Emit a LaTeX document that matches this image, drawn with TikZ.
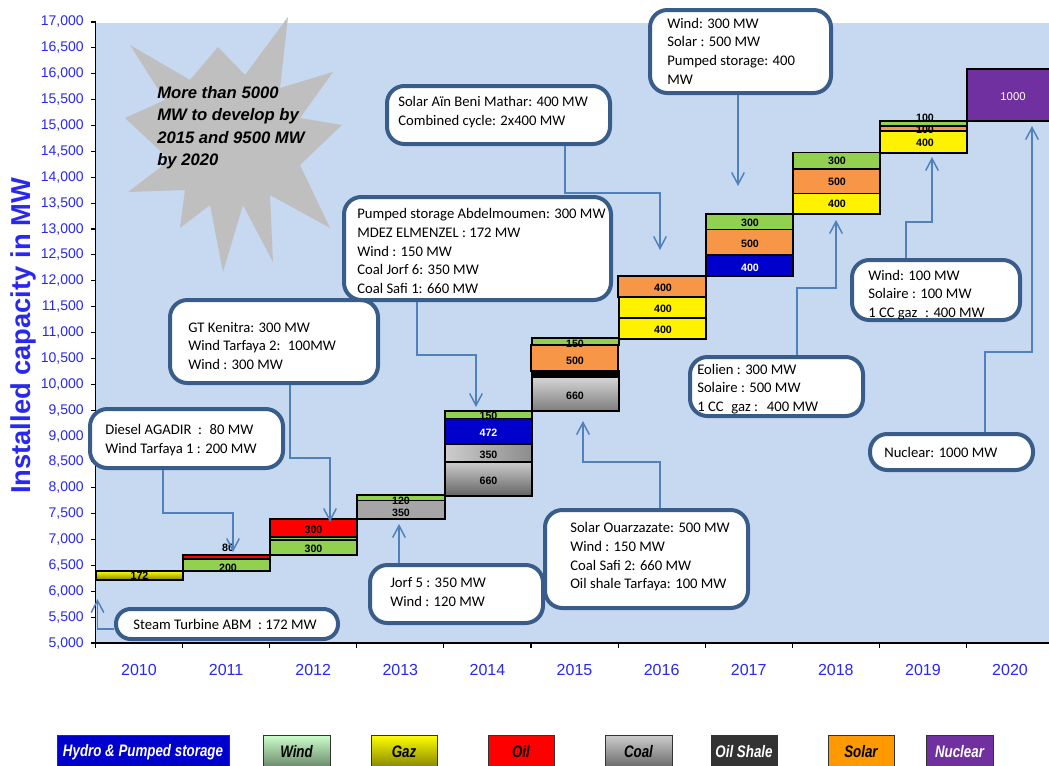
\documentclass[tikz,border=0pt]{standalone}
\usepackage{fontspec}
\setmainfont{Liberation Sans}
\newfontfamily\calfont{Carlito}
\newfontfamily\narrowfont[FakeStretch=0.8]{Liberation Sans}
\usetikzlibrary{arrows.meta}

\definecolor{plotbg}{RGB}{198,217,240}
\definecolor{stargray}{RGB}{191,191,191}
\definecolor{axisblue}{RGB}{40,40,240}
\definecolor{hydro}{RGB}{0,0,204}
\definecolor{windg}{RGB}{146,208,80}
\definecolor{solarb}{RGB}{247,150,70}
\definecolor{olive}{RGB}{128,128,0}
\definecolor{nuclear}{RGB}{112,48,160}
\definecolor{cbord}{RGB}{56,93,138}
\definecolor{connc}{RGB}{79,129,189}
\definecolor{windtop}{RGB}{204,255,204}
\definecolor{windbot}{RGB}{100,130,100}
\definecolor{coaltop}{RGB}{205,205,205}
\definecolor{coalbot}{RGB}{100,100,100}
\definecolor{oilshale}{RGB}{51,51,51}
\definecolor{solarl}{RGB}{255,153,0}

\begin{document}
\begin{tikzpicture}[x=0.75pt,y=-0.75pt,
  segline/.style={draw=black,line width=1.2pt},
  vlab/.style={font=\bfseries\fontsize{8}{9}\selectfont,inner sep=0pt},
  callout/.style={draw=cbord,line width=3pt,fill=white,rounded corners=13pt,inner sep=0pt},
  ctext/.style={font=\calfont\fontsize{11}{14}\selectfont,align=left,inner sep=0pt},
  conn/.style={draw=connc,line width=1.1pt,-{Straight Barb[length=9pt,width=9.5pt]}},
  leg/.style={draw=oilshale,line width=.75pt,inner sep=0pt,minimum height=25.5pt,
    font=\narrowfont\bfseries\itshape\fontsize{12.5}{14}\selectfont},
  axlab/.style={font=\fontsize{10.5}{12}\selectfont,text=axisblue,inner sep=0pt},
  yrlab/.style={font=\fontsize{12}{14}\selectfont,text=axisblue,inner sep=0pt}]
\useasboundingbox (0,0) rectangle (1049,765);
\fill[white] (0,0) rectangle (1049,765);

% plot area
\fill[plotbg] (96,23) rectangle (1049,643);

% starburst with the headline
\fill[stargray] (125,118) -- (165,100) -- (130,45) -- (190,80) -- (218,47) -- (245,75)
  -- (288,17) -- (280,88) -- (333,72) -- (300,118) -- (342,125) -- (300,165)
  -- (330,228) -- (270,195) -- (273,262) -- (243,205) -- (223,272) -- (210,205)
  -- (180,228) -- (185,190) -- (128,192) -- (170,160) -- cycle;
\node[anchor=north west,align=left,inner sep=0pt,
  font=\bfseries\itshape\fontsize{12.5}{16.8}\selectfont] (head) at (157,86)
  {More than 5000\\MW to develop by\\2015 and 9500 MW\\by 2020};

% stacked yearly additions
% 2010
\draw[segline,top color=yellow,bottom color=olive] (96,571) rectangle (183,580);
% 2011
\draw[segline,fill=red] (183,555) rectangle (270,559);
\draw[segline,fill=windg] (183,559) rectangle (270,571);
% 2012
\draw[segline,fill=red] (270,519) rectangle (357,536.7);
\draw[segline,fill=windg] (270,536.7) rectangle (357,540);
\draw[segline,fill=windg] (270,540) rectangle (357,555);
% 2013
\draw[segline,fill={rgb,255:red,166;green,166;blue,166}] (357,500.3) rectangle (445,519);
\draw[segline,fill=windg] (357,495) rectangle (445,500.3);
% 2014
\draw[segline,fill=windg] (445,411) rectangle (532,418.3);
\draw[segline,fill=hydro] (445,418.3) rectangle (532,443.7);
\draw[segline,left color=coaltop,right color={rgb,255:red,140;green,140;blue,140}] (445,443.7) rectangle (532,461.7);
\draw[segline,top color=coaltop,bottom color=coalbot] (445,461.7) rectangle (532,495.7);
% 2015
\draw[segline,fill=windg] (532,338) rectangle (619,345);
\draw[segline,fill=solarb] (531,345) rectangle (618,370.7);
\draw[segline,fill=black] (532,371) rectangle (619,376.7);
\draw[segline,shading angle=60,top color={rgb,255:red,215;green,215;blue,215},bottom color={rgb,255:red,125;green,125;blue,125}] (532,376.7) rectangle (619,411);
% 2016
\draw[segline,fill=solarb] (618,276) rectangle (706,296.7);
\draw[segline,fill=yellow] (619,296.7) rectangle (706,317.7);
\draw[segline,fill=yellow] (619,317.7) rectangle (706,339);
% 2017
\draw[segline,fill=windg] (706,214) rectangle (793,229.3);
\draw[segline,fill=solarb] (706,229.3) rectangle (793,255);
\draw[segline,fill=hydro] (706,255) rectangle (793,275.7);
% 2018
\draw[segline,fill=windg] (793,152.3) rectangle (880,168.7);
\draw[segline,fill=solarb] (793,168.7) rectangle (880,193.3);
\draw[segline,fill=yellow] (793,193.3) rectangle (880,214);
% 2019
\draw[segline,fill=windg] (880,120.7) rectangle (967,126);
\draw[segline,fill=solarb] (880,126) rectangle (967,131);
\draw[segline,fill=yellow] (880,131) rectangle (967,152.7);
% 2020
\draw[segline,fill=nuclear] (967,69) rectangle (1056,120.7);

% values on the segments
\node[vlab] (l10) at (139.5,576) {172};
\node[vlab] (l11a) at (228,548) {80};
\node[vlab] (l11b) at (228,568) {200};
\node[vlab] (l12a) at (313.5,530) {300};
\node[vlab] (l12b) at (313.5,549) {300};
\node[vlab] (l13a) at (401,501) {120};
\node[vlab] (l13b) at (401,513) {350};
\node[vlab] (l14a) at (488.5,416) {150};
\node[vlab,text=white] (l14b) at (488.5,433) {472};
\node[vlab] (l14c) at (488.5,455) {350};
\node[vlab] (l14d) at (488.5,481) {660};
\node[vlab] (l15a) at (575,344) {150};
\node[vlab] (l15b) at (575,361) {500};
\node[vlab] (l15c) at (575,396) {660};
\node[vlab] (l16a) at (663,288) {400};
\node[vlab] (l16b) at (663,309) {400};
\node[vlab] (l16c) at (663,330) {400};
\node[vlab] (l17a) at (750,223) {300};
\node[vlab] (l17b) at (750,244) {500};
\node[vlab,text=white] (l17c) at (750,268) {400};
\node[vlab] (l18a) at (837,161) {300};
\node[vlab] (l18b) at (837,182) {500};
\node[vlab] (l18c) at (837,204) {400};
\node[vlab] (l19a) at (925,118) {100};
\node[vlab] (l19b) at (925,130) {100};
\node[vlab] (l19c) at (925,143) {400};
\node[vlab,font=\fontsize{8.5}{9}\selectfont,text=white] (l20) at (1013,97) {1000};

% axes
\draw[black,line width=1.1pt] (95.5,22) -- (95.5,643);
\draw[black,line width=1.5pt] (95.5,643) -- (1049,643);
\foreach \k in {5,...,17} {
  \draw[black,line width=.8pt] (91,643-51.75*\k+258.75) -- (95.5,643-51.75*\k+258.75);
  \node[axlab,anchor=east] (yk\k) at (84,643-51.75*\k+258.75) {\k,000};
}
\foreach \k in {5,...,16} {
  \draw[black,line width=.8pt] (91,617.125-51.75*\k+258.75) -- (95.5,617.125-51.75*\k+258.75);
  \node[axlab,anchor=east] (yh\k) at (84,617.125-51.75*\k+258.75) {\k,500};
}
\foreach \yr [count=\i from 0] in {2010,...,2020} {
  \draw[black,line width=.8pt] (95.5+87.1*\i,643) -- (95.5+87.1*\i,648);
  \node[yrlab] (yr\yr) at (139+87.1*\i,670) {\yr};
}
\node[rotate=90,font=\bfseries\fontsize{20.5}{24}\selectfont,text=axisblue,inner sep=0pt]
  (ytitle) at (23,336) {Installed capacity in MW};

% callout boxes
\node[callout,rounded corners=11pt,minimum width=166.5pt,minimum height=22.5pt] (st) at (227,624) {};
\node[callout,minimum width=144.75pt,minimum height=44.25pt] (dg) at (186.5,438.5) {};
\node[callout,minimum width=156pt,minimum height=62.25pt] (gt) at (274,341.5) {};
\node[callout,minimum width=129.75pt,minimum height=43.5pt] (jf) at (456.5,594) {};
\node[callout,minimum width=200.25pt,minimum height=77.25pt] (ps) at (477.5,248.5) {};
\node[callout,minimum width=167.25pt,minimum height=43.5pt] (sa) at (498.5,115) {};
\node[callout,minimum width=135.75pt,minimum height=62.25pt] (wa) at (740.5,51.5) {};
\node[callout,minimum width=152.25pt,minimum height=73.5pt] (so) at (646.5,559) {};
\node[callout,minimum width=129.75pt,minimum height=44.25pt] (eo) at (776.5,386.5) {};
\node[callout,minimum width=126pt,minimum height=45pt] (wb) at (936,290) {};
\node[callout,minimum width=122.25pt,minimum height=27pt] (nu) at (951.5,452) {};

% connectors from the callouts to the bars
\coordinate (t10) at (97.5,599);
\coordinate (t11) at (233,552);
\coordinate (t12) at (330,522);
\coordinate (t13) at (399,524);
\coordinate (t14) at (476,407);
\coordinate (t15) at (583,421);
\coordinate (t16) at (660,250);
\coordinate (t17) at (738,186);
\coordinate (t18) at (836,220);
\coordinate (t19) at (932,157);
\coordinate (t20) at (1032,126);
\draw[conn] (st.west |- 0,629) -| (t10);
\draw[conn] (dg.south -| 163,0) |- (233,513) -- (t11);
\draw[conn] (gt.south -| 290,0) |- (330,458) -- (t12);
\draw[conn] (jf.north -| 399,0) -- (t13);
\draw[conn] (ps.south -| 417,0) |- (476,355) -- (t14);
\draw[conn] (so.north -| 660,0) |- (583,462) -- (t15);
\draw[conn] (sa.south -| 565,0) |- (660,193) -- (t16);
\draw[conn] (wa.south -| 738,0) -- (t17);
\draw[conn] (eo.north -| 797,0) |- (836,288) -- (t18);
\draw[conn] (wb.north -| 906,0) |- (932,222) -- (t19);
\draw[conn] (nu.north -| 985,0) |- (1032,352) -- (t20);

% callout texts
\node[ctext,anchor=west] (st-t) at (133,624) {Steam Turbine ABM\hspace{0.45em}: 172 MW};
\node[ctext,anchor=west] (dg-t) at (105,440) {Diesel AGADIR\hspace{0.45em}:\hspace{0.3em} 80 MW\\Wind Tarfaya 1 : 200 MW};
\node[ctext,anchor=west] (gt-t) at (188,346) {GT Kenitra: 300 MW\\Wind Tarfaya 2:\hspace{0.2em} 100MW\\Wind : 300 MW};
\node[ctext,anchor=west] (jf-t) at (390,592) {Jorf 5 : 350 MW\\Wind : 120 MW};
\node[ctext,anchor=west] (ps-t) at (357,251) {Pumped storage Abdelmoumen: 300 MW\\MDEZ ELMENZEL : 172 MW\\Wind : 150 MW\\Coal Jorf 6: 350 MW\\Coal Safi 1: 660 MW};
\node[ctext,anchor=west] (sa-t) at (398,112) {Solar A\"in Beni Mathar: 400 MW\\Combined cycle: 2x400 MW};
\node[ctext,anchor=west] (wa-t) at (667,51) {Wind: 300 MW\\Solar : 500 MW\\Pumped storage: 400\\MW};
\node[ctext,anchor=west] (so-t) at (570,557) {Solar Ouarzazate: 500 MW\\Wind : 150 MW\\Coal Safi 2: 660 MW\\Oil shale Tarfaya: 100 MW};
\node[ctext,anchor=west] (eo-t) at (697,389) {Eolien : 300 MW\\Solaire : 500 MW\\1 CC\hspace{0.3em} gaz :\hspace{0.3em} 400 MW};
\node[ctext,anchor=west] (wb-t) at (868,295) {Wind: 100 MW\\Solaire : 100 MW\\1 CC gaz\hspace{0.3em} : 400 MW};
\node[ctext,anchor=west] (nu-t) at (884,452) {Nuclear: 1000 MW};

% legend
\node[leg,fill=hydro,text=white,minimum width=129pt] (lg1) at (143,752) {Hydro \& Pumped storage};
\node[leg,top color=windtop,bottom color=windbot,minimum width=50.25pt] (lg2) at (296.5,752) {Wind};
\node[leg,top color=yellow,bottom color=olive,minimum width=49.5pt] (lg3) at (404,752) {Gaz};
\node[leg,fill=red,minimum width=49.5pt] (lg4) at (521,752) {Oil};
\node[leg,top color=coaltop,bottom color=coalbot,minimum width=50.25pt] (lg5) at (638.5,752) {Coal};
\node[leg,fill=oilshale,text=white,minimum width=49.5pt] (lg6) at (744,752) {Oil Shale};
\node[leg,fill=solarl,minimum width=49.5pt] (lg7) at (861,752) {Solar};
\node[leg,fill=nuclear,text=white,minimum width=50.25pt] (lg8) at (959.5,752) {Nuclear};
\end{tikzpicture}
\end{document}
